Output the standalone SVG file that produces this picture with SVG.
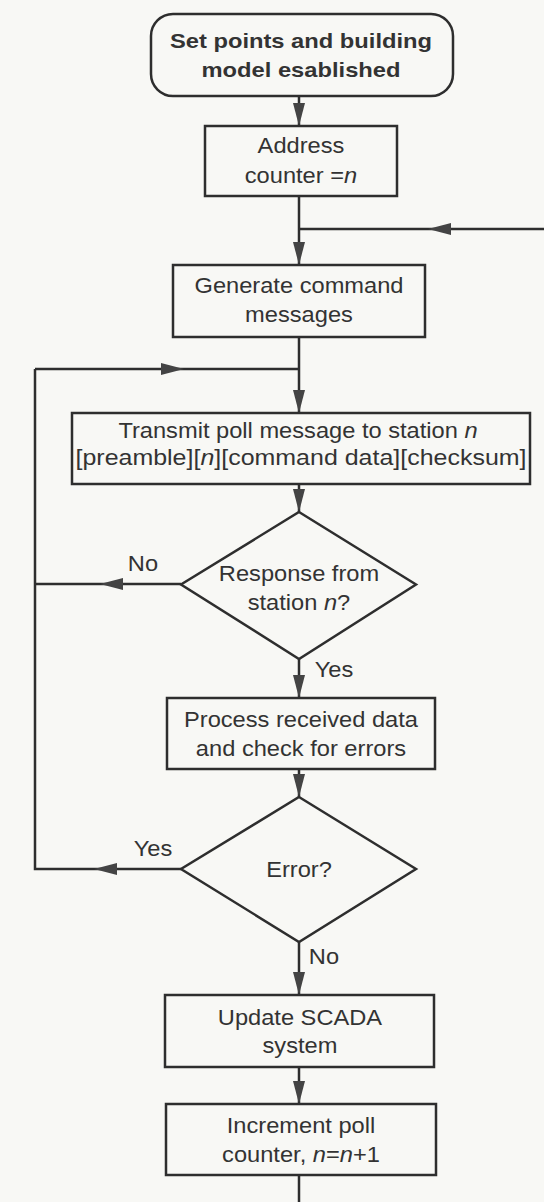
<svg xmlns="http://www.w3.org/2000/svg" xmlns:xlink="http://www.w3.org/1999/xlink" width="544" height="1202" viewBox="0 0 544 1202">
<style>
.bg{fill:#f8f8f5}
.box{fill:none;stroke:#2e2e2e;stroke-width:2.5}
.ln{fill:none;stroke:#2e2e2e;stroke-width:2.5}
.ah{fill:#444}
.t{font-family:"Liberation Sans",Arial,Helvetica,sans-serif;font-size:21.5px;fill:#333;text-anchor:middle;transform-box:fill-box;transform-origin:center;transform:scaleX(1.1)}
.b{font-weight:bold;font-size:21px;transform:scaleX(1.13)}
.i{font-style:italic}
</style>
<defs>
<path id="ah" d="M0,0 L-23,-6 L-23,6 Z"/>
</defs>
<rect class="bg" x="0" y="0" width="544" height="1202"/>
<g id="connectors">
<path class="ln" d="M299,96 V126"/>
<path class="ln" d="M299,196 V265"/>
<path class="ln" d="M544,229 H299"/>
<path class="ln" d="M299,337 V413"/>
<path class="ln" d="M35,369 H299"/>
<path class="ln" d="M299,484 V512"/>
<path class="ln" d="M181,584 H35"/>
<path class="ln" d="M35,369 V869 H181"/>
<path class="ln" d="M299,659 V698"/>
<path class="ln" d="M299,769 V797"/>
<path class="ln" d="M299,942 V995"/>
<path class="ln" d="M299,1067 V1104"/>
<path class="ln" d="M299,1175 V1202"/>
<g class="ah">
<use xlink:href="#ah" transform="translate(299,126) rotate(90)"/>
<use xlink:href="#ah" transform="translate(299,265) rotate(90)"/>
<use xlink:href="#ah" transform="translate(428,229) rotate(180)"/>
<use xlink:href="#ah" transform="translate(184,369)"/>
<use xlink:href="#ah" transform="translate(299,413) rotate(90)"/>
<use xlink:href="#ah" transform="translate(299,512) rotate(90)"/>
<use xlink:href="#ah" transform="translate(100,584) rotate(180)"/>
<use xlink:href="#ah" transform="translate(299,698) rotate(90)"/>
<use xlink:href="#ah" transform="translate(299,797) rotate(90)"/>
<use xlink:href="#ah" transform="translate(94,869) rotate(180)"/>
<use xlink:href="#ah" transform="translate(299,995) rotate(90)"/>
<use xlink:href="#ah" transform="translate(299,1104) rotate(90)"/>
</g>
<text class="t" x="143" y="571">No</text>
<text class="t" x="334" y="677">Yes</text>
<text class="t" x="153" y="856">Yes</text>
<text class="t" x="324" y="964">No</text>
</g>
<g id="start">
<rect class="box" x="151" y="14" width="302" height="82" rx="22" ry="22"/>
<text class="t b" x="301" y="48">Set points and building</text>
<text class="t b" x="301" y="77">model esablished</text>
</g>
<g id="address">
<rect class="box" x="205" y="126" width="192" height="70"/>
<text class="t" x="301" y="153">Address</text>
<text class="t" x="301" y="183">counter =<tspan class="i">n</tspan></text>
</g>
<g id="generate">
<rect class="box" x="173" y="265" width="252" height="72"/>
<text class="t" x="299" y="293">Generate command</text>
<text class="t" x="299" y="322">messages</text>
</g>
<g id="transmit">
<rect class="box" x="72" y="413" width="458" height="71"/>
<text class="t" x="298" y="438">Transmit poll message to station <tspan class="i">n</tspan></text>
<text class="t" x="301" y="465" textLength="410" lengthAdjust="spacingAndGlyphs">[preamble][<tspan class="i">n</tspan>][command data][checksum]</text>
</g>
<g id="response">
<path class="box" d="M299,512 L416,584.5 L299,659 L181,584.5 Z"/>
<text class="t" x="299" y="581">Response from</text>
<text class="t" x="299" y="610">station <tspan class="i">n</tspan>?</text>
</g>
<g id="process">
<rect class="box" x="167" y="698" width="268" height="71"/>
<text class="t" x="301" y="727">Process received data</text>
<text class="t" x="301" y="756">and check for errors</text>
</g>
<g id="error">
<path class="box" d="M299,797 L416,869 L299,942 L181,869 Z"/>
<text class="t" x="299" y="877">Error?</text>
</g>
<g id="update">
<rect class="box" x="165" y="995" width="269" height="72"/>
<text class="t" x="300" y="1025">Update SCADA</text>
<text class="t" x="300" y="1053">system</text>
</g>
<g id="increment">
<rect class="box" x="166" y="1104" width="270" height="71"/>
<text class="t" x="301" y="1133">Increment poll</text>
<text class="t" x="301" y="1162">counter, <tspan class="i">n</tspan>=<tspan class="i">n</tspan>+1</text>
</g>
</svg>
